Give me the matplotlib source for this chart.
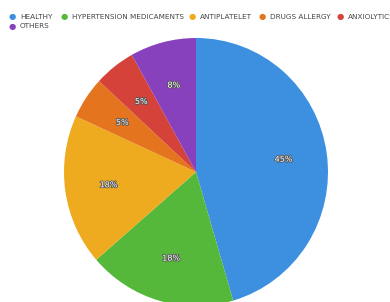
import matplotlib.pyplot as plt
import matplotlib.patheffects as pe

categories = ["HEALTHY", "HYPERTENSION MEDICAMENTS", "ANTIPLATELET",
              "DRUGS ALLERGY", "ANXIOLYTICS", "OTHERS"]
shares = [45, 18, 18, 5, 5, 8]
pct_labels = ["45%", "18%", "18%", "5%", "5%", "8%"]
colors = ["#3d8fe0", "#55b83a", "#eeab1f", "#e5741f", "#d4423a", "#8741bd"]

W, H = 390, 302
cx, cy = 196, 172
rx, ry = 132, 134   # the original is slightly taller than wide

fig = plt.figure(figsize=(W / 100, H / 100), dpi=100)
ax = fig.add_axes([0, 0, 1, 1])

wedges, texts = ax.pie(shares, colors=colors, startangle=90, counterclock=False,
                       radius=1, labels=pct_labels, labeldistance=0.67,
                       wedgeprops=dict(linewidth=0))
for t in texts:
    t.set_ha("center")
    t.set_va("center")
    t.set_color("white")
    t.set_fontsize(5.8)
    t.set_path_effects([pe.withStroke(linewidth=1.2, foreground="#555555")])

# pie() resets the limits, so set them afterwards
ax.set_aspect("auto")
ax.set_xlim(-cx / rx, (W - cx) / rx)
ax.set_ylim(-(H - cy) / ry, cy / ry)
ax.axis("off")

# legend drawn by hand: 5 on the first row, OTHERS wraps to the second
leg_x = [12, 64, 192, 262, 340, 12]
leg_y = [17, 17, 17, 17, 17, 26]
for name, c, x, y in zip(categories, colors, leg_x, leg_y):
    fig.text(x / W, 1 - y / H, "\u25cf", color=c, fontsize=6,
             ha="center", va="center")
    fig.text((x + 8) / W, 1 - y / H, name, color="#444444", fontsize=5.2,
             ha="left", va="center")

fig.savefig("out.png", dpi=100)
